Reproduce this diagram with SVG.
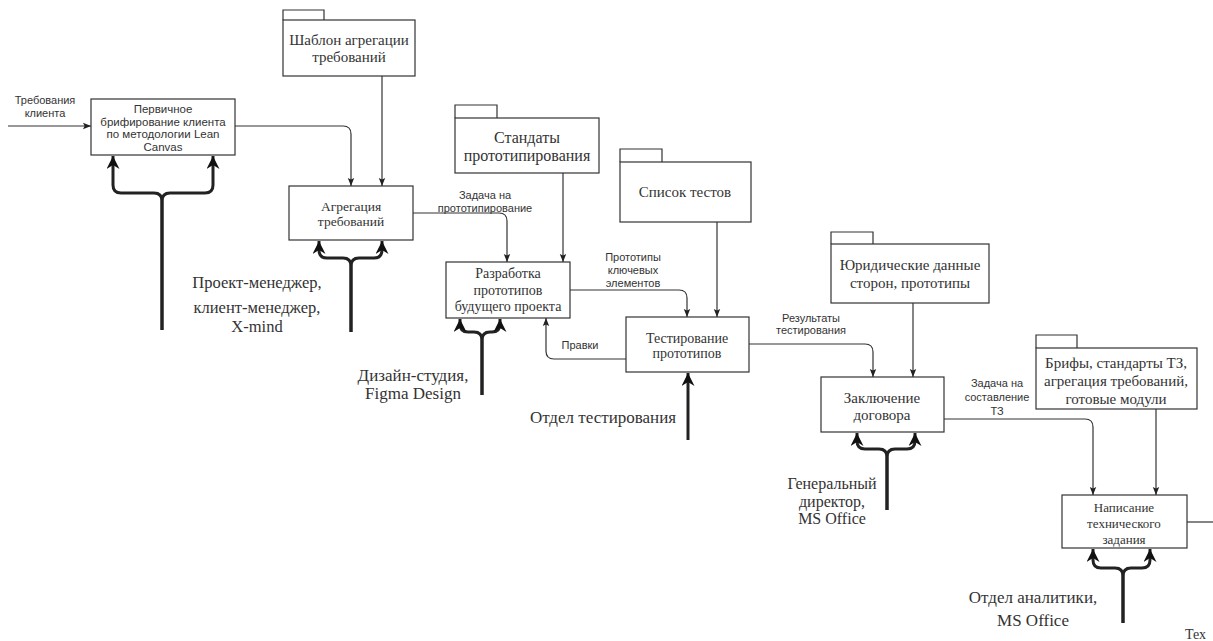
<svg xmlns="http://www.w3.org/2000/svg" width="1213" height="641" viewBox="0 0 1213 641">
<defs>
<style>
.box{fill:#fff;stroke:#333;stroke-width:1.2}
.ln{fill:none;stroke:#333;stroke-width:1.2}
.tk{fill:none;stroke:#222;stroke-width:3}
.sans{font-family:"Liberation Sans",Arial,sans-serif;fill:#333;text-anchor:middle}
.ser{font-family:"Liberation Serif","Times New Roman",serif;fill:#333;text-anchor:middle}
.lab{font-size:11px}
.mech{font-size:17px;fill:#333}
</style>
<marker id="a" viewBox="0 0 10 10" refX="10" refY="5" markerWidth="8" markerHeight="8" orient="auto" markerUnits="userSpaceOnUse"><path d="M0,1 L10,5 L0,9 L2,5 z" fill="#222"/></marker>
<marker id="b" viewBox="0 0 10 10" refX="10" refY="5" markerWidth="13" markerHeight="13" orient="auto" markerUnits="userSpaceOnUse"><path d="M0,0 L10,5 L0,10 L3,5 z" fill="#111"/></marker>
</defs>
<rect width="1213" height="641" fill="#fff"/>

<g id="connectors">
<path class="ln" d="M8,126 H91" marker-end="url(#a)"/>
<path class="ln" d="M235,126 H343 Q351,126 351,134 V186" marker-end="url(#a)"/>
<path class="ln" d="M382,76 V186" marker-end="url(#a)"/>
<path class="ln" d="M413,213 H499 Q507,213 507,221 V262" marker-end="url(#a)"/>
<path class="ln" d="M563,173 V262" marker-end="url(#a)"/>
<path class="ln" d="M570,290 H679 Q687,290 687,298 V317" marker-end="url(#a)"/>
<path class="ln" d="M717,222 V317" marker-end="url(#a)"/>
<path class="ln" d="M626,359 H554 Q546,359 546,351 V318" marker-end="url(#a)"/>
<path class="ln" d="M749,344 H865 Q873,344 873,352 V377" marker-end="url(#a)"/>
<path class="ln" d="M913,303 V377" marker-end="url(#a)"/>
<path class="ln" d="M944,419 H1085 Q1093,419 1093,427 V495" marker-end="url(#a)"/>
<path class="ln" d="M1156,409 V495" marker-end="url(#a)"/>
<path class="ln" d="M1187,522 H1213"/>

<path class="tk" d="M162,330 V201 Q162,193 154,193 H121 Q113,193 113,185 V156" marker-end="url(#b)"/>
<path class="tk" d="M162,330 V201 Q162,193 170,193 H205 Q213,193 213,185 V156" marker-end="url(#b)"/>
<path class="tk" d="M351,332 V266 Q351,258 343,258 H327 Q319,258 319,250 V241" marker-end="url(#b)"/>
<path class="tk" d="M351,332 V266 Q351,258 359,258 H374 Q382,258 382,250 V241" marker-end="url(#b)"/>
<path class="tk" d="M482,395 V340 Q482,332 474,332 H468 Q460,332 460,324 V319" marker-end="url(#b)"/>
<path class="tk" d="M482,395 V340 Q482,332 490,332 H492 Q500,332 500,324 V319" marker-end="url(#b)"/>
<path class="tk" d="M688,440 V373" marker-end="url(#b)"/>
<path class="tk" d="M887,510 V457 Q887,449 879,449 H865 Q857,449 857,441 V433" marker-end="url(#b)"/>
<path class="tk" d="M887,510 V457 Q887,449 895,449 H907 Q915,449 915,441 V433" marker-end="url(#b)"/>
<path class="tk" d="M1123,623 V576 Q1123,568 1115,568 H1101 Q1093,568 1093,560 V549" marker-end="url(#b)"/>
<path class="tk" d="M1123,623 V576 Q1123,568 1131,568 H1142 Q1150,568 1150,560 V549" marker-end="url(#b)"/>

<text class="sans lab"><tspan x="45" y="104">Требования</tspan><tspan x="45" y="117">клиента</tspan></text>
<text class="sans lab"><tspan x="485" y="199">Задача на</tspan><tspan x="485" y="212">прототипирование</tspan></text>
<text class="sans lab"><tspan x="633" y="261">Прототипы</tspan><tspan x="633" y="274">ключевых</tspan><tspan x="633" y="287">элементов</tspan></text>
<text class="sans lab" x="580" y="349">Правки</text>
<text class="sans lab"><tspan x="811" y="322">Результаты</tspan><tspan x="811" y="334">тестирования</tspan></text>
<text class="sans lab"><tspan x="997" y="387">Задача на</tspan><tspan x="997" y="401">составление</tspan><tspan x="997" y="415">ТЗ</tspan></text>

<text class="ser mech" style="font-size:16.5px"><tspan x="257" y="288">Проект-менеджер,</tspan><tspan x="257" y="313">клиент-менеджер,</tspan><tspan x="257" y="332">X-mind</tspan></text>
<text class="ser mech"><tspan x="413" y="381">Дизайн-студия,</tspan><tspan x="413" y="399">Figma Design</tspan></text>
<text class="ser mech" x="603" y="423">Отдел тестирования</text>
<text class="ser mech" style="font-size:16px"><tspan x="832" y="489">Генеральный</tspan><tspan x="832" y="507">директор,</tspan><tspan x="832" y="524">MS Office</tspan></text>
<text class="ser mech"><tspan x="1033" y="603">Отдел аналитики,</tspan><tspan x="1033" y="626">MS Office</tspan></text>
<text class="ser" style="font-size:14px;text-anchor:start" x="1185" y="639">Тех</text>
</g>

<g id="n1">
<rect class="box" x="91" y="99" width="144" height="56"/>
<text class="sans" style="font-size:11.5px"><tspan x="163" y="113">Первичное</tspan><tspan x="163" y="125.5">брифирование клиента</tspan><tspan x="163" y="138">по методологии Lean</tspan><tspan x="163" y="150.5">Canvas</tspan></text>
</g>
<g id="c1">
<path class="box" d="M283,20 V10 H324 V20"/>
<rect class="box" x="283" y="20" width="132" height="56"/>
<text class="ser" style="font-size:15px"><tspan x="349" y="45">Шаблон агрегации</tspan><tspan x="349" y="62">требований</tspan></text>
</g>
<g id="n2">
<rect class="box" x="289" y="186" width="124" height="54"/>
<text class="ser" style="font-size:13.5px"><tspan x="351" y="211">Агрегация</tspan><tspan x="351" y="226">требований</tspan></text>
</g>
<g id="c2">
<path class="box" d="M455,118 V105 H497 V118"/>
<rect class="box" x="455" y="118" width="144" height="55"/>
<text class="ser" style="font-size:16px"><tspan x="527" y="143">Стандаты</tspan><tspan x="527" y="161">прототипирования</tspan></text>
</g>
<g id="n3">
<rect class="box" x="446" y="262" width="124" height="56"/>
<text class="ser" style="font-size:14px"><tspan x="508" y="278">Разработка</tspan><tspan x="508" y="295">прототипов</tspan><tspan x="508" y="311">будущего проекта</tspan></text>
</g>
<g id="c3">
<path class="box" d="M620,162 V149 H662 V162"/>
<rect class="box" x="620" y="162" width="131" height="60"/>
<text class="ser" style="font-size:15px" x="685" y="197">Список тестов</text>
</g>
<g id="n4">
<rect class="box" x="626" y="317" width="123" height="55"/>
<text class="ser" style="font-size:14px"><tspan x="687" y="343">Тестирование</tspan><tspan x="687" y="358">прототипов</tspan></text>
</g>
<g id="c4">
<path class="box" d="M831,244 V232 H873 V244"/>
<rect class="box" x="831" y="244" width="158" height="59"/>
<text class="ser" style="font-size:15px"><tspan x="910" y="270">Юридические данные</tspan><tspan x="910" y="288">сторон, прототипы</tspan></text>
</g>
<g id="n5">
<rect class="box" x="821" y="377" width="123" height="55"/>
<text class="ser" style="font-size:15px"><tspan x="882" y="403">Заключение</tspan><tspan x="882" y="420">договора</tspan></text>
</g>
<g id="c5">
<path class="box" d="M1036,348 V335 H1077 V348"/>
<rect class="box" x="1036" y="348" width="161" height="61"/>
<text class="ser" style="font-size:15px"><tspan x="1116" y="368">Брифы, стандарты  ТЗ,</tspan><tspan x="1116" y="386">агрегация требований,</tspan><tspan x="1116" y="404">готовые модули</tspan></text>
</g>
<g id="n6">
<rect class="box" x="1062" y="495" width="125" height="53"/>
<text class="ser" style="font-size:13px"><tspan x="1124" y="512">Написание</tspan><tspan x="1124" y="528">технического</tspan><tspan x="1124" y="544">задания</tspan></text>
</g>
</svg>
